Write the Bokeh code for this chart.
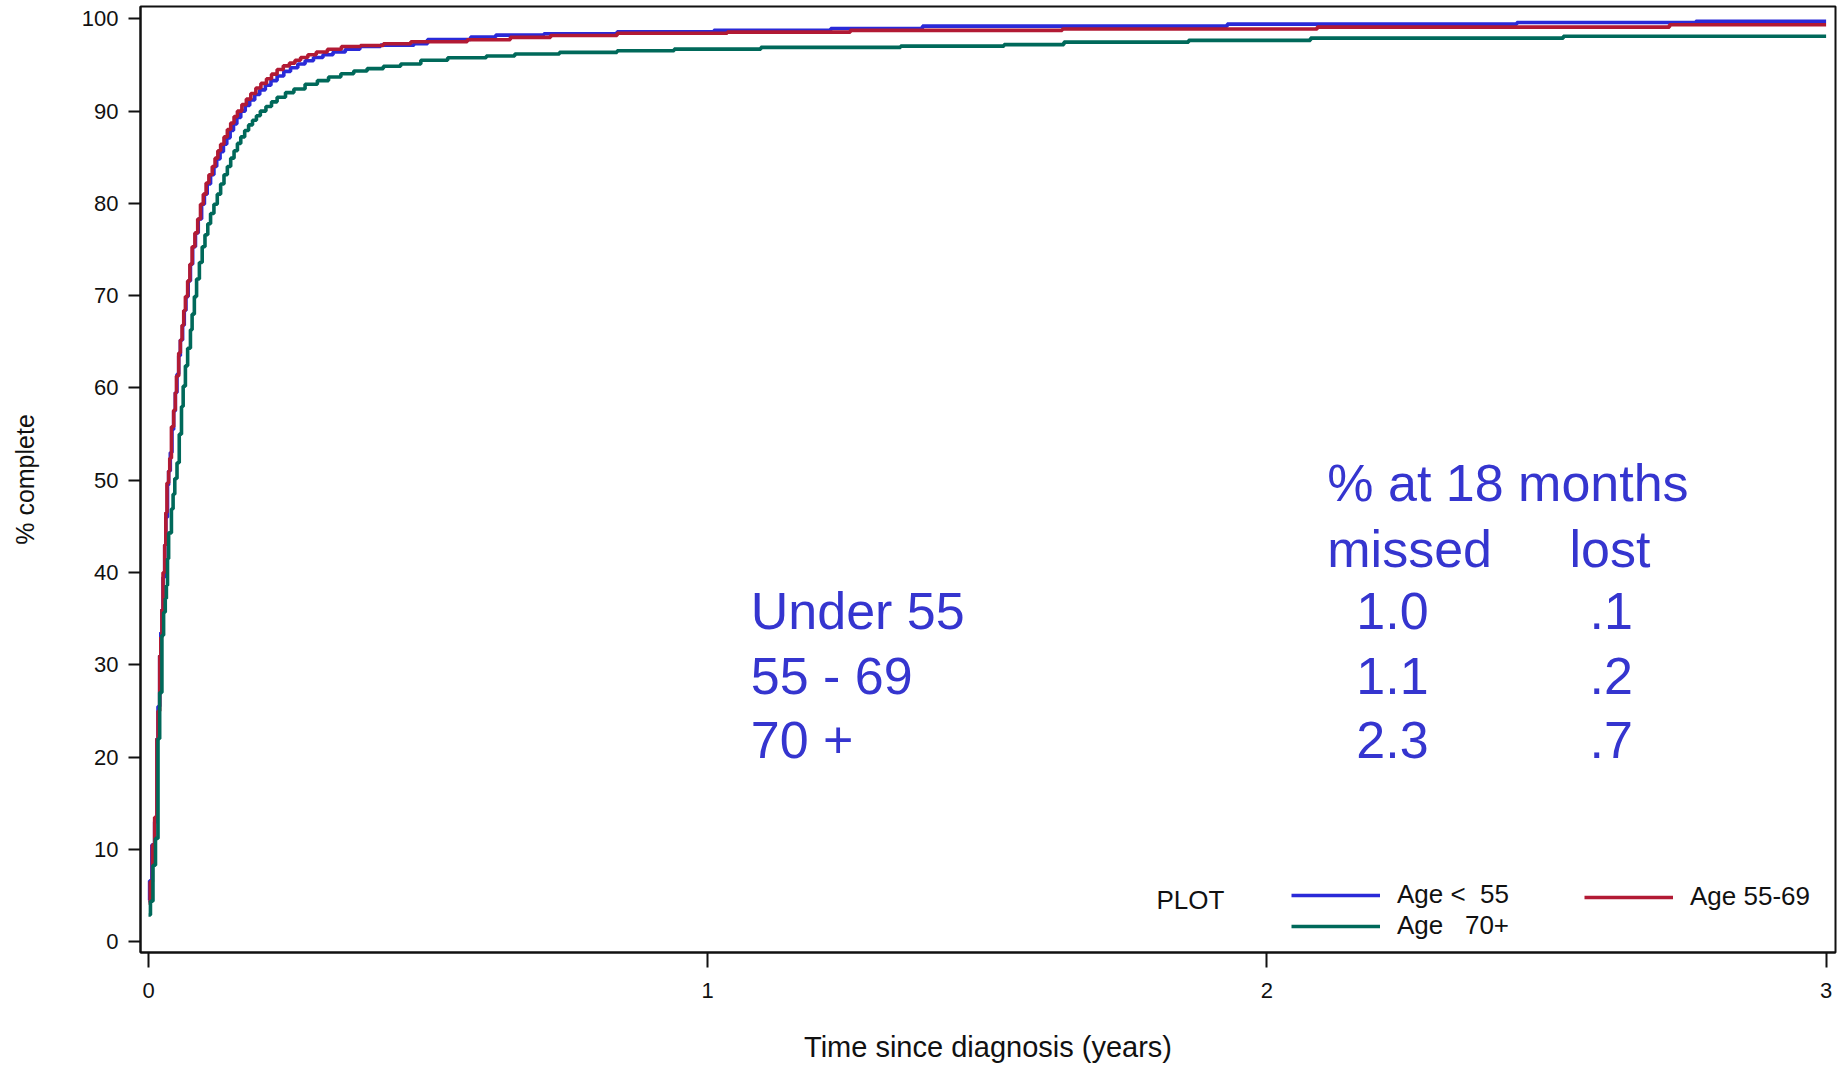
from bokeh.plotting import figure
from bokeh.models import Range1d, Legend, LegendItem, FixedTicker
from bokeh.embed import file_html
from bokeh.resources import INLINE
from bokeh.core.properties import value

# ---------------- data ----------------
series_names = ["Age <  55", "Age 55-69", "Age   70+"]

t_u55 = [0, 0.002, 0.006, 0.011, 0.015, 0.017, 0.020, 0.022, 0.024, 0.026, 0.029, 0.031, 0.034,
         0.036, 0.039, 0.042, 0.045, 0.048, 0.051, 0.054, 0.057, 0.061, 0.064, 0.067, 0.071, 0.075,
         0.079, 0.084, 0.089, 0.095, 0.100, 0.105, 0.111, 0.117, 0.122, 0.128, 0.134, 0.140, 0.146,
         0.152, 0.158, 0.165, 0.173, 0.181, 0.190, 0.199, 0.209, 0.219, 0.230, 0.242, 0.254, 0.267,
         0.280, 0.295, 0.312, 0.330, 0.352, 0.378, 0.415, 0.475, 0.499, 0.576, 0.621, 0.707, 0.838,
         1.011, 1.22, 1.384, 1.929, 2.447, 2.767, 3.0]
pct_u55 = [4.5, 6.6, 10.5, 13.0, 22.0, 25.5, 31.0, 33.5, 36.0, 39.5, 43.0, 46.0, 49.5,
           51.0, 53.0, 55.5, 57.5, 59.5, 61.5, 63.5, 65.2, 66.8, 68.4, 69.9, 71.6, 73.4,
           75.3, 76.8, 78.3, 79.9, 81.0, 82.1, 83.1, 84.0, 84.8, 85.6, 86.4, 87.1, 87.9,
           88.6, 89.3, 90.0, 90.6, 91.2, 91.8, 92.3, 92.8, 93.3, 93.8, 94.3, 94.7, 95.1,
           95.45, 95.8, 96.1, 96.4, 96.7, 97.0, 97.15, 97.3, 97.76, 98.02, 98.23, 98.38, 98.59,
           98.74, 98.95, 99.2, 99.42, 99.6, 99.74, 99.74]

t_5569 = [0, 0.003, 0.007, 0.011, 0.015, 0.017, 0.020, 0.022, 0.024, 0.026, 0.029, 0.031, 0.033,
          0.036, 0.038, 0.041, 0.045, 0.048, 0.050, 0.054, 0.057, 0.060, 0.063, 0.066, 0.070, 0.074,
          0.078, 0.083, 0.088, 0.093, 0.098, 0.103, 0.108, 0.114, 0.119, 0.124, 0.129, 0.135, 0.141,
          0.147, 0.153, 0.159, 0.167, 0.175, 0.183, 0.192, 0.201, 0.211, 0.220, 0.230, 0.241, 0.252,
          0.262, 0.272, 0.285, 0.300, 0.320, 0.345, 0.379, 0.420, 0.469, 0.570, 0.647, 0.719, 0.838,
          1.035, 1.255, 1.634, 2.09, 2.72, 3.0]
pct_5569 = [4.2, 6.5, 10.5, 13.5, 22.0, 25.0, 31.0, 33.0, 36.0, 40.0, 43.0, 46.5, 49.7,
            51.0, 52.4, 55.8, 57.6, 59.5, 61.3, 63.8, 65.2, 66.8, 68.4, 69.9, 71.6, 73.4,
            75.3, 76.8, 78.3, 79.9, 81.0, 82.2, 83.1, 84.0, 84.9, 85.7, 86.4, 87.2, 88.0,
            88.7, 89.4, 90.0, 90.7, 91.3, 91.9, 92.5, 93.0, 93.5, 94.0, 94.5, 94.9, 95.2,
            95.5, 95.8, 96.1, 96.4, 96.7, 97.0, 97.1, 97.3, 97.51, 97.73, 97.98, 98.19, 98.44,
            98.55, 98.74, 98.9, 99.1, 99.35, 99.35]

t_70 = [0, 0.0035, 0.008, 0.0125, 0.017, 0.020, 0.024, 0.027, 0.030, 0.032, 0.034, 0.036, 0.041,
        0.044, 0.047, 0.051, 0.055, 0.059, 0.062, 0.066, 0.070, 0.075, 0.078, 0.082, 0.086, 0.091,
        0.096, 0.101, 0.106, 0.111, 0.117, 0.123, 0.129, 0.135, 0.141, 0.147, 0.153, 0.159, 0.165,
        0.172, 0.179, 0.186, 0.193, 0.200, 0.210, 0.220, 0.230, 0.245, 0.260, 0.280, 0.302, 0.322,
        0.344, 0.367, 0.391, 0.420, 0.451, 0.487, 0.535, 0.604, 0.655, 0.735, 0.838, 0.94, 1.095,
        1.345, 1.53, 1.637, 1.86, 2.078, 2.53, 3.0]
pct_70 = [2.9, 4.4, 8.3, 11.2, 22.0, 27.0, 33.2, 35.7, 37.2, 38.6, 41.5, 44.3, 46.9,
          48.5, 50.2, 51.9, 55.0, 58.0, 60.2, 62.4, 64.3, 66.3, 68.0, 69.9, 71.8, 73.6,
          75.3, 76.6, 77.8, 78.9, 79.9, 81.0, 82.1, 83.1, 84.0, 84.9, 85.7, 86.5, 87.2,
          87.9, 88.5, 89.0, 89.5, 90.0, 90.5, 91.0, 91.5, 92.0, 92.4, 92.9, 93.3, 93.7,
          94.05, 94.35, 94.6, 94.85, 95.1, 95.5, 95.78, 95.96, 96.18, 96.36, 96.54, 96.71, 96.9,
          97.04, 97.2, 97.47, 97.66, 97.9, 98.1, 98.1]

x_ticks = [0, 1, 2, 3]
y_ticks = [0, 10, 20, 30, 40, 50, 60, 70, 80, 90, 100]

table_title = "% at 18 months"
col_missed = "missed"
col_lost = "lost"
group_labels = ["Under 55", "55 - 69", "70 +"]
missed_pct = ["1.0", "1.1", "2.3"]
lost_pct = [".1", ".2", ".7"]

# ---------------- styling ----------------
FONT = "Liberation Sans"
BLUE = "#2a2ad8"
RED = "#b21a34"
GREEN = "#00695a"
TXT_BLUE = "#3535cf"

p = figure(width=1846, height=1065, output_backend="svg", toolbar_location=None,
           x_range=Range1d(-0.0143, 3.0168), y_range=Range1d(-1.16, 101.33),
           min_border_left=140, min_border_right=11, min_border_top=6, min_border_bottom=111)
p.background_fill_color = "white"
p.border_fill_color = "white"
p.outline_line_color = "#111111"
p.outline_line_width = 2
p.grid.visible = False

p.xaxis.ticker = FixedTicker(ticks=x_ticks)
p.yaxis.ticker = FixedTicker(ticks=y_ticks)
p.xaxis.minor_tick_line_color = None
p.yaxis.minor_tick_line_color = None
for ax in (p.xaxis, p.yaxis):
    ax.axis_line_color = "#111111"
    ax.axis_line_width = 2
    ax.major_tick_line_color = "#111111"
    ax.major_tick_line_width = 2
    ax.major_tick_in = 0
    ax.major_label_text_font = FONT
    ax.major_label_text_font_size = "22px"
    ax.major_label_text_color = "#111111"
    ax.axis_label_text_font = FONT
    ax.axis_label_text_font_style = "normal"
    ax.axis_label_text_color = "#111111"
p.xaxis.major_tick_out = 15
p.yaxis.major_tick_out = 12
p.xaxis.major_label_standoff = 15
p.yaxis.major_label_standoff = 10
p.xaxis.axis_label = "Time since diagnosis (years)"
p.yaxis.axis_label = "% complete"
p.xaxis.axis_label_text_font_size = "29px"
p.yaxis.axis_label_text_font_size = "25px"
p.xaxis.axis_label_standoff = 30
p.yaxis.axis_label_standoff = 40

LW = 3.6
r_blue = p.step(t_u55, pct_u55, mode="after", line_color=BLUE, line_width=LW)
r_red = p.step(t_5569, pct_5569, mode="after", line_color=RED, line_width=LW)
r_green = p.step(t_70, pct_70, mode="after", line_color=GREEN, line_width=LW)

# legend
leg_common = dict(border_line_alpha=0, background_fill_alpha=0, padding=0, margin=0,
                  spacing=-5, glyph_width=89, glyph_height=26, label_height=26, label_standoff=17,
                  label_text_font=FONT, label_text_font_size="26px", label_text_color="#111111")
leg1 = Legend(items=[LegendItem(label=series_names[0], renderers=[r_blue]),
                     LegendItem(label=series_names[2], renderers=[r_green])],
              location=(1151, 11), **leg_common)
leg2 = Legend(items=[LegendItem(label=series_names[1], renderers=[r_red])],
              location=(1444, 40), **leg_common)
p.add_layout(leg1)
p.add_layout(leg2)
p.text(x=[1.8026], y=[4.57], text=["PLOT"], text_font=value(FONT), text_font_size="26px",
       text_color="#111111", text_baseline="middle", text_align="left")

# annotation table
big = dict(text_font=value(FONT), text_font_size="52px", text_color=TXT_BLUE,
           text_baseline="middle", text_align="left")
row_y = [35.8, 28.8, 21.9]
p.text(x=[2.108], y=[49.7], text=[table_title], **big)
p.text(x=[2.108, 2.541], y=[42.6, 42.6], text=[col_missed, col_lost], **big)
p.text(x=[1.077] * 3, y=row_y, text=group_labels, **big)
p.text(x=[2.160] * 3, y=row_y, text=missed_pct, **big)
p.text(x=[2.577] * 3, y=row_y, text=lost_pct, **big)

open("out.html", "w").write(file_html(p, INLINE))
